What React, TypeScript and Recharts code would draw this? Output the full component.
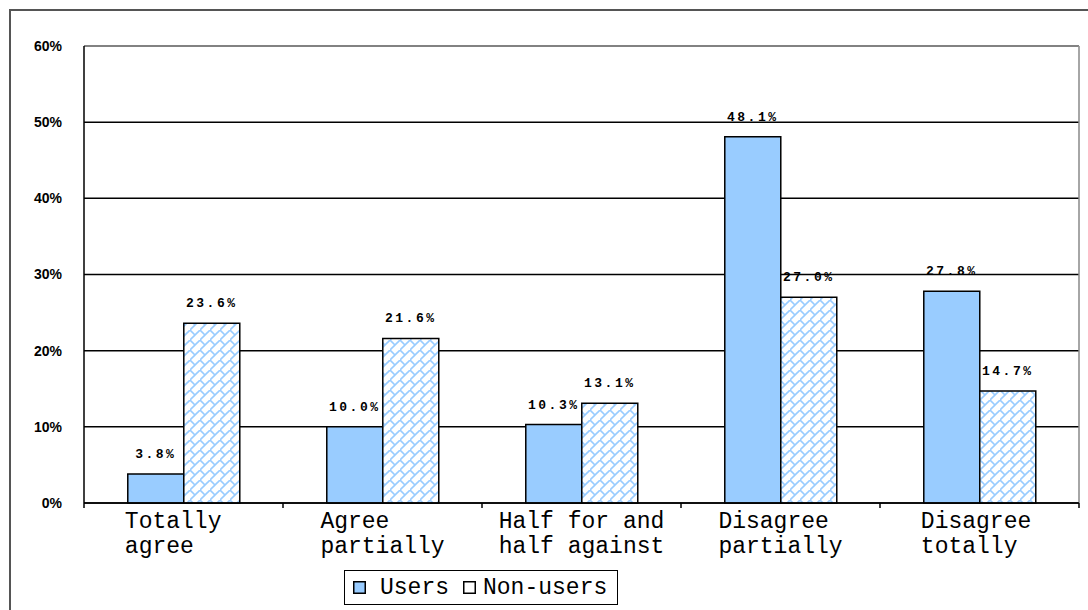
import React from "react";
import {
  BarChart,
  Bar,
  XAxis,
  YAxis,
  CartesianGrid,
  Legend,
  LabelList,
  ReferenceLine,
} from "recharts";

const categories = [
  "Totally\nagree",
  "Agree\npartially",
  "Half for and\nhalf against",
  "Disagree\npartially",
  "Disagree\ntotally",
];
const usersValues = [3.8, 10.0, 10.3, 48.1, 27.8];
const nonUsersValues = [23.6, 21.6, 13.1, 27.0, 14.7];
const yTicks = [0, 10, 20, 30, 40, 50, 60];
const seriesNames = ["Users", "Non-users"];

const data = categories.map((c, i) => ({
  category: c,
  users: usersValues[i],
  nonUsers: nonUsersValues[i],
}));

const MONO = "'Liberation Mono', 'DejaVu Sans Mono', monospace";
const BLUE = "#99CCFF";
const CHAR_W = 13.8;

const XTick = (props: any) => {
  const { x, y, payload, index, width, visibleTicksCount } = props;
  const lines: string[] = String(payload.value).split("\n");
  const maxLen = Math.max(8.5, ...lines.map((l) => l.length));
  const startX = x - (maxLen * CHAR_W) / 2;
  const band = width / visibleTicksCount;
  return (
    <g>
      <line x1={x - band / 2} x2={x - band / 2} y1={y} y2={y + 5} stroke="#000" strokeWidth={1.5} />
      {index === visibleTicksCount - 1 && (
        <line x1={x + band / 2} x2={x + band / 2} y1={y} y2={y + 5} stroke="#000" strokeWidth={1.5} />
      )}
      <text x={startX} y={y} fontFamily={MONO} fontSize={23} fill="#000" textAnchor="start">
        {lines.map((l, i) => (
          <tspan key={i} x={startX} dy={25}>
            {l}
          </tspan>
        ))}
      </text>
    </g>
  );
};

const ValueLabel = (props: any) => {
  const { x, y, width, value } = props;
  return (
    <text
      x={x + width / 2}
      y={y - 16}
      textAnchor="middle"
      fontFamily={MONO}
      fontWeight="bold"
      fontSize={13}
      letterSpacing={2.5}
      fill="#000"
    >
      {`${Number(value).toFixed(1)}%`}
    </text>
  );
};

const LegendContent = () => {
  return (
    <div
      style={{
        boxSizing: "border-box",
        width: 274,
        height: 35,
        border: "1.5px solid #000",
        background: "#fff",
        display: "flex",
        alignItems: "center",
        paddingLeft: 8,
        fontFamily: MONO,
        fontSize: 23,
        color: "#000",
      }}
    >
      {seriesNames.map((name, i) => (
        <div key={i} style={{ display: "flex", alignItems: "center", marginRight: i === 0 ? 14 : 0 }}>
          <svg width={13} height={13} style={{ marginRight: i === 0 ? 14 : 7 }}>
            <rect
              x={0.75}
              y={0.75}
              width={11.5}
              height={11.5}
              fill={i === 0 ? BLUE : "#fff"}
              stroke="#000"
              strokeWidth={1.5}
            />
          </svg>
          <span style={{ lineHeight: "23px", position: "relative", top: 1 }}>{name}</span>
        </div>
      ))}
    </div>
  );
};

export default function App() {
  return (
    <div
      style={{
        position: "absolute",
        left: 0,
        top: 0,
        width: 1088,
        height: 610,
        overflow: "hidden",
        background: "#fff",
      }}
    >
      <div
        style={{
          position: "absolute",
          left: 9,
          top: 9,
          width: 1100,
          height: 620,
          border: "2px solid #555",
        }}
      />
      <div style={{ position: "absolute", left: 0, top: 0 }}>
        <BarChart
          width={1088}
          height={610}
          data={data}
          margin={{ top: 46, right: 9, left: 0, bottom: 47 }}
          barCategoryGap="22%"
          barGap={0}
        >
          <defs>
            <pattern id="brick" width={10} height={10} patternUnits="userSpaceOnUse">
              <rect width={10} height={10} fill="#fff" />
              <path d="M-1,11 L11,-1" stroke={BLUE} strokeWidth={1.6} />
              <path d="M0,0 L5,5" stroke={BLUE} strokeWidth={1.6} />
            </pattern>
          </defs>
          <CartesianGrid vertical={false} stroke="#000" strokeWidth={1.5} />
          <CartesianGrid
            horizontal={false}
            stroke="#888"
            strokeWidth={1.5}
            verticalCoordinatesGenerator={({ offset }: any) => [offset.left + offset.width]}
          />
          <ReferenceLine y={60} stroke="#999" strokeWidth={1.5} />
          <XAxis
            dataKey="category"
            height={60}
            axisLine={{ stroke: "#000", strokeWidth: 1.5 }}
            tickLine={false}
            tickSize={0}
            tickMargin={0}
            interval={0}
            tick={<XTick />}
          />
          <YAxis
            width={84}
            domain={[0, 60]}
            ticks={yTicks}
            tickFormatter={(v: number) => `${v}%`}
            axisLine={{ stroke: "#000", strokeWidth: 1.5 }}
            tickLine={false}
            tickSize={0}
            tickMargin={22}
            tick={{ fill: "#000", fontSize: 14, fontWeight: "bold", fontFamily: "'Liberation Sans', Arial, sans-serif" }}
          />
          <Legend
            layout="vertical"
            align="center"
            verticalAlign="middle"
            wrapperStyle={{ left: 344, top: 570, width: 274, height: 35 }}
            content={<LegendContent />}
          />
          <Bar
            dataKey="users"
            name={seriesNames[0]}
            fill={BLUE}
            stroke="#000"
            strokeWidth={1.5}
            isAnimationActive={false}
          >
            <LabelList dataKey="users" content={<ValueLabel />} />
          </Bar>
          <Bar
            dataKey="nonUsers"
            name={seriesNames[1]}
            fill="url(#brick)"
            stroke="#000"
            strokeWidth={1.5}
            isAnimationActive={false}
          >
            <LabelList dataKey="nonUsers" content={<ValueLabel />} />
          </Bar>
        </BarChart>
      </div>
    </div>
  );
}
